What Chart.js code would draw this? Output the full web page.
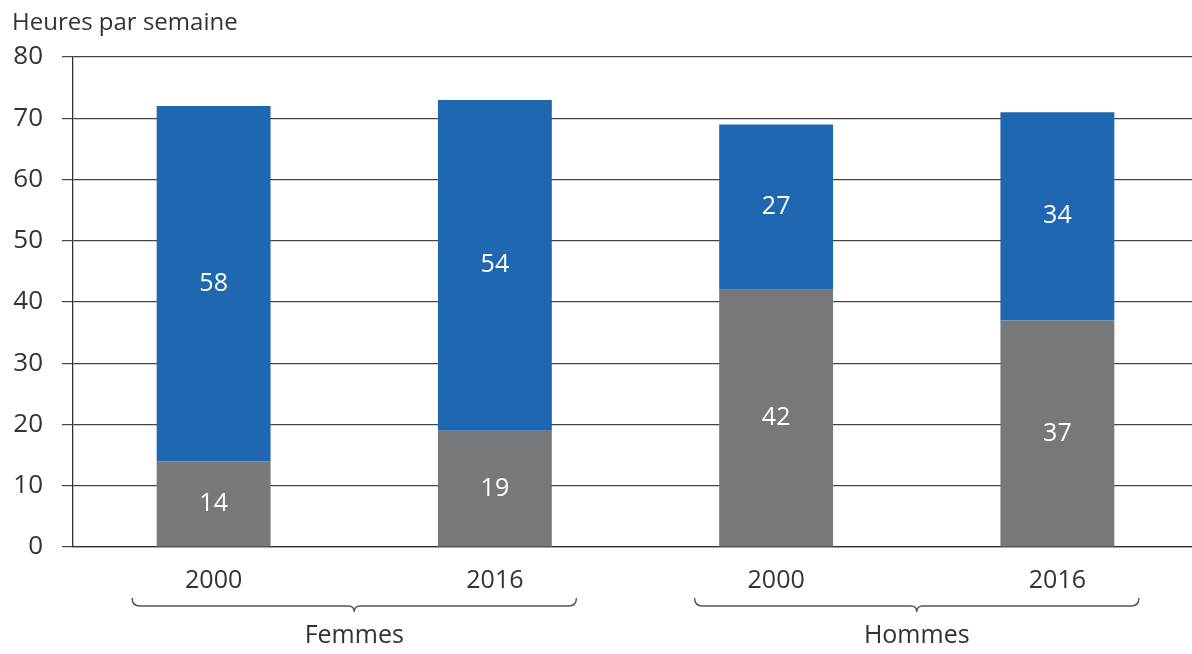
<!DOCTYPE html>
<html>
<head>
<meta charset="utf-8">
<script src="https://cdn.jsdelivr.net/npm/chart.js@4"></script>
<style>
  html, body { margin: 0; padding: 0; background: #fff; overflow: hidden; }
  #wrap { width: 1198px; height: 654px; }
</style>
</head>
<body>
<div id="wrap"><canvas id="chart"></canvas></div>
<script>
const years = ["2000", "2016", "2000", "2016"];
const groups = ["Femmes", "Hommes"];
const grayValues = [14, 19, 42, 37];
const blueValues = [58, 54, 27, 34];
const yTicks = [0, 10, 20, 30, 40, 50, 60, 70, 80];

const FONT = "'Open Sans', 'Noto Sans', sans-serif";
const TEXT = "#333";

// title, value labels and the braces under the years
const extras = {
    id: "extras",
    afterDatasetsDraw(chart) {
        const ctx = chart.ctx;
        ctx.save();
        ctx.fillStyle = "#fff";
        ctx.font = "25px " + FONT;
        ctx.textAlign = "center";
        ctx.textBaseline = "middle";
        chart.data.datasets.forEach((ds, i) => {
            chart.getDatasetMeta(i).data.forEach((bar, j) => {
                ctx.fillText(String(ds.data[j]), bar.x, (bar.y + bar.base) / 2);
            });
        });
        ctx.restore();
    },
    afterDraw(chart) {
        const ctx = chart.ctx;
        const x = chart.scales.x;
        ctx.save();
        ctx.fillStyle = TEXT;
        ctx.font = "24px " + FONT;
        ctx.textAlign = "left";
        ctx.textBaseline = "middle";
        ctx.fillText("Heures par semaine", 12, 23);

        const half = (x.getPixelForValue(1) - x.getPixelForValue(0)) * 0.29;
        const yTop = 598, yLine = 606, yTip = 612;
        ctx.strokeStyle = "#555";
        ctx.lineWidth = 1.4;
        groups.forEach((g, k) => {
            const a = x.getPixelForValue(k * 2) - half;
            const b = x.getPixelForValue(k * 2 + 1) + half;
            const m = (a + b) / 2;
            ctx.beginPath();
            ctx.moveTo(a, yTop);
            ctx.quadraticCurveTo(a, yLine, a + 8, yLine);
            ctx.lineTo(m - 6, yLine);
            ctx.quadraticCurveTo(m, yLine, m, yTip);
            ctx.quadraticCurveTo(m, yLine, m + 6, yLine);
            ctx.lineTo(b - 8, yLine);
            ctx.quadraticCurveTo(b, yLine, b, yTop);
            ctx.stroke();
            ctx.font = "25px " + FONT;
            ctx.textAlign = "center";
            ctx.fillText(g, m, 636);
        });
        ctx.restore();
    }
};

new Chart(document.getElementById("chart"), {
    type: "bar",
    data: {
        labels: years,
        datasets: [{
            label: "gris",
            data: grayValues,
            backgroundColor: "#76787a",
            barPercentage: 0.405,
            categoryPercentage: 1
        }, {
            label: "bleu",
            data: blueValues,
            backgroundColor: "#1f67b1",
            barPercentage: 0.405,
            categoryPercentage: 1
        }]
    },
    options: {
        responsive: true,
        maintainAspectRatio: false,
        animation: false,
        layout: { padding: { top: 57, right: 0, left: 0, bottom: 0 } },
        plugins: {
            legend: { display: false },
            tooltip: { enabled: false },
            title: { display: false }
        },
        scales: {
            x: {
                stacked: true,
                grid: { display: false, drawTicks: false },
                border: { display: true, color: "#333", width: 1.3 },
                ticks: { color: TEXT, font: { family: FONT, size: 25 }, padding: 19, maxRotation: 0 },
                afterFit(scale) { scale.height = 107; }
            },
            y: {
                stacked: true,
                min: 0,
                max: 80,
                afterBuildTicks(scale) { scale.ticks = yTicks.map(v => ({ value: v })); },
                grid: { color: "#444", lineWidth: 1.2, tickLength: 11 },
                border: { display: true, color: "#333", width: 1.3 },
                ticks: { color: TEXT, font: { family: FONT, size: 26 }, padding: 19 },
                afterFit(scale) { scale.width = 73; }
            }
        }
    },
    plugins: [extras]
});
</script>
</body>
</html>
